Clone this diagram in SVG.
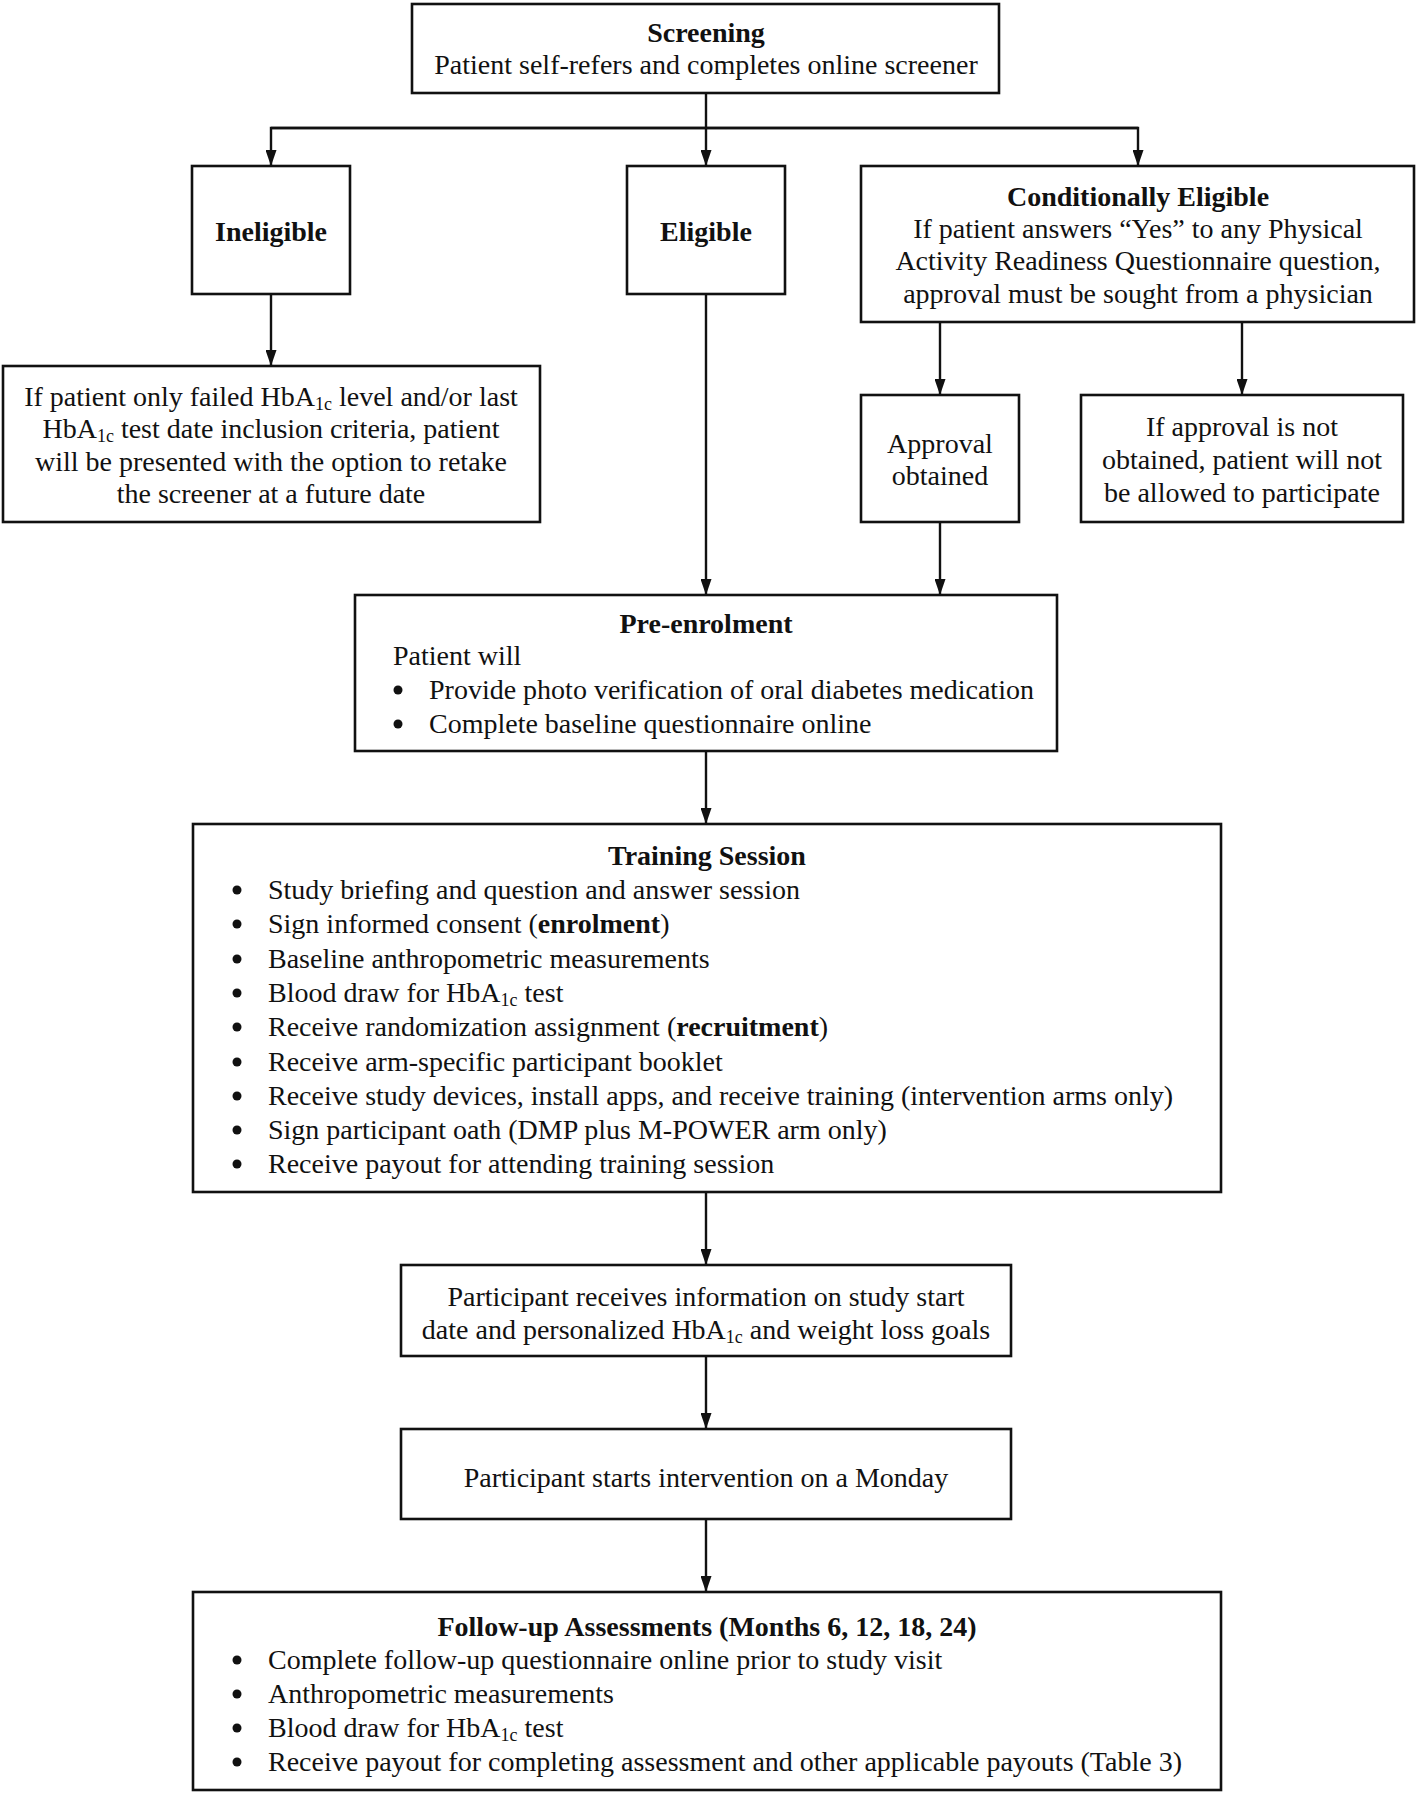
<svg xmlns="http://www.w3.org/2000/svg" width="1418" height="1794" viewBox="0 0 1418 1794">
<style>
.box{fill:#fff;stroke:#111;stroke-width:2.6}
.c{fill:none;stroke:#111;stroke-width:2.4}
.dot{fill:#111}
text{font-family:"Liberation Serif","Times New Roman",serif;font-size:28px;fill:#111}
.m{text-anchor:middle}
.b{font-weight:bold}
.s{font-size:18px}
</style>
<defs>
<marker id="ah" markerUnits="userSpaceOnUse" markerWidth="16" markerHeight="11" refX="16" refY="5.5" orient="auto" viewBox="0 0 16 11">
<path d="M0,0 L16,5.5 L0,11 z" fill="#111"/>
</marker>
</defs>
<g id="connectors">
<path class="c" d="M706,93 V166" marker-end="url(#ah)"/>
<path class="c" d="M271,128 H1138 V166" marker-end="url(#ah)"/>
<path class="c" d="M1138,128 H271 V166" marker-end="url(#ah)"/>
<path class="c" d="M271,294 V366" marker-end="url(#ah)"/>
<path class="c" d="M940,322 V395" marker-end="url(#ah)"/>
<path class="c" d="M1242,322 V395" marker-end="url(#ah)"/>
<path class="c" d="M706,294 V595" marker-end="url(#ah)"/>
<path class="c" d="M940,522 V595" marker-end="url(#ah)"/>
<path class="c" d="M706,751 V824" marker-end="url(#ah)"/>
<path class="c" d="M706,1192 V1265" marker-end="url(#ah)"/>
<path class="c" d="M706,1356 V1429" marker-end="url(#ah)"/>
<path class="c" d="M706,1519 V1592" marker-end="url(#ah)"/>
</g>
<g id="screening">
<rect class="box" x="412" y="4" width="587" height="89"/>
<text class="m b" x="706" y="42">Screening</text>
<text class="m" x="706" y="74">Patient self-refers and completes online screener</text>
</g>
<g id="ineligible">
<rect class="box" x="192" y="166" width="158" height="128"/>
<text class="m b" x="271" y="241">Ineligible</text>
</g>
<g id="eligible">
<rect class="box" x="627" y="166" width="158" height="128"/>
<text class="m b" x="706" y="241">Eligible</text>
</g>
<g id="conditional">
<rect class="box" x="861" y="166" width="553" height="156"/>
<text class="m b" x="1138" y="206">Conditionally Eligible</text>
<text class="m" x="1138" y="238">If patient answers “Yes” to any Physical</text>
<text class="m" x="1138" y="270">Activity Readiness Questionnaire question,</text>
<text class="m" x="1138" y="303">approval must be sought from a physician</text>
</g>
<g id="retake">
<rect class="box" x="3" y="366" width="537" height="156"/>
<text class="m" x="271" y="406">If patient only failed HbA<tspan class="s" dy="4">1c</tspan><tspan dy="-4"> level and/or last</tspan></text>
<text class="m" x="271" y="438">HbA<tspan class="s" dy="4">1c</tspan><tspan dy="-4"> test date inclusion criteria, patient</tspan></text>
<text class="m" x="271" y="471">will be presented with the option to retake</text>
<text class="m" x="271" y="503">the screener at a future date</text>
</g>
<g id="approval">
<rect class="box" x="861" y="395" width="158" height="127"/>
<text class="m" x="940" y="453">Approval</text>
<text class="m" x="940" y="485">obtained</text>
</g>
<g id="not-obtained">
<rect class="box" x="1081" y="395" width="322" height="127"/>
<text class="m" x="1242" y="436">If approval is not</text>
<text class="m" x="1242" y="469">obtained, patient will not</text>
<text class="m" x="1242" y="502">be allowed to participate</text>
</g>
<g id="pre-enrolment">
<rect class="box" x="355" y="595" width="702" height="156"/>
<text class="m b" x="706" y="633">Pre-enrolment</text>
<text x="393" y="665">Patient will</text>
<circle class="dot" cx="398" cy="690" r="4.5"/><text x="429" y="699">Provide photo verification of oral diabetes medication</text>
<circle class="dot" cx="398" cy="724" r="4.5"/><text x="429" y="733">Complete baseline questionnaire online</text>
</g>
<g id="training">
<rect class="box" x="193" y="824" width="1028" height="368"/>
<text class="m b" x="707" y="865">Training Session</text>
<circle class="dot" cx="237" cy="890" r="4.5"/><text x="268" y="899">Study briefing and question and answer session</text>
<circle class="dot" cx="237" cy="924" r="4.5"/><text x="268" y="933">Sign informed consent (<tspan class="b">enrolment</tspan>)</text>
<circle class="dot" cx="237" cy="959" r="4.5"/><text x="268" y="968">Baseline anthropometric measurements</text>
<circle class="dot" cx="237" cy="993" r="4.5"/><text x="268" y="1002">Blood draw for HbA<tspan class="s" dy="4">1c</tspan><tspan dy="-4"> test</tspan></text>
<circle class="dot" cx="237" cy="1027" r="4.5"/><text x="268" y="1036">Receive randomization assignment (<tspan class="b">recruitment</tspan>)</text>
<circle class="dot" cx="237" cy="1062" r="4.5"/><text x="268" y="1071">Receive arm-specific participant booklet</text>
<circle class="dot" cx="237" cy="1096" r="4.5"/><text x="268" y="1105">Receive study devices, install apps, and receive training (intervention arms only)</text>
<circle class="dot" cx="237" cy="1130" r="4.5"/><text x="268" y="1139">Sign participant oath (DMP plus M-POWER arm only)</text>
<circle class="dot" cx="237" cy="1164" r="4.5"/><text x="268" y="1173">Receive payout for attending training session</text>
</g>
<g id="info">
<rect class="box" x="401" y="1265" width="610" height="91"/>
<text class="m" x="706" y="1306">Participant receives information on study start</text>
<text class="m" x="706" y="1339">date and personalized HbA<tspan class="s" dy="4">1c</tspan><tspan dy="-4"> and weight loss goals</tspan></text>
</g>
<g id="start">
<rect class="box" x="401" y="1429" width="610" height="90"/>
<text class="m" x="706" y="1487">Participant starts intervention on a Monday</text>
</g>
<g id="follow-up">
<rect class="box" x="193" y="1592" width="1028" height="198"/>
<text class="m b" x="707" y="1636">Follow-up Assessments (Months 6, 12, 18, 24)</text>
<circle class="dot" cx="237" cy="1660" r="4.5"/><text x="268" y="1669">Complete follow-up questionnaire online prior to study visit</text>
<circle class="dot" cx="237" cy="1694" r="4.5"/><text x="268" y="1703">Anthropometric measurements</text>
<circle class="dot" cx="237" cy="1728" r="4.5"/><text x="268" y="1737">Blood draw for HbA<tspan class="s" dy="4">1c</tspan><tspan dy="-4"> test</tspan></text>
<circle class="dot" cx="237" cy="1762" r="4.5"/><text x="268" y="1771">Receive payout for completing assessment and other applicable payouts (Table 3)</text>
</g>
</svg>
